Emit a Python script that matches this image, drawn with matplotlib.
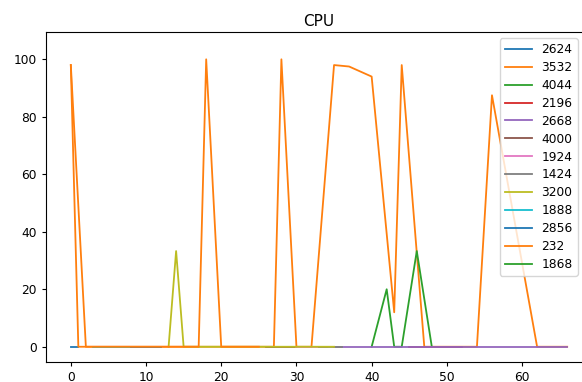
import matplotlib
matplotlib.use("Agg")
import matplotlib.pyplot as plt
import numpy as np

# CPU samples per process id (x = sample index, y = cpu %)
pids = ["2624", "3532", "4044", "2196", "2668", "4000", "1924",
        "1424", "3200", "1888", "2856", "232", "1868"]

x_2624 = [0, 1]
y_2624 = [0, 0]

x_3532 = [0, 1, 5, 10, 15, 20, 25, 27, 28, 30, 32, 35, 37, 40, 43, 44, 47, 50, 54, 56, 62, 66]
y_3532 = [98, 0, 0, 0, 0, 0, 0, 0, 100, 0, 0, 98, 97.5, 94, 12, 98, 0, 0, 0, 87.5, 0, 0]

x_4044 = [40, 42, 43, 44, 46, 48]
y_4044 = [0, 20, 0, 0, 33.3, 0]

x_2196 = [45, 52]
y_2196 = [0, 0]

x_2668 = [35, 40, 45, 50, 55, 60, 66]
y_2668 = [0, 0, 0, 0, 0, 0, 0]

x_4000 = [26, 30]
y_4000 = [0, 0]

x_1924 = [30, 34]
y_1924 = [0, 0]

x_1424 = [33, 36]
y_1424 = [0, 0]

x_3200 = [13, 14, 15, 20, 25, 30, 35]
y_3200 = [0, 33.3, 0, 0, 0, 0, 0]

x_1888 = [3, 8]
y_1888 = [0, 0]

x_2856 = [8, 12]
y_2856 = [0, 0]

x_232 = [0, 2, 5, 10, 13, 17, 18, 20, 22, 25]
y_232 = [98, 0, 0, 0, 0, 0, 100, 0, 0, 0]

x_1868 = [50]
y_1868 = [0]

series_x = [x_2624, x_3532, x_4044, x_2196, x_2668, x_4000, x_1924,
            x_1424, x_3200, x_1888, x_2856, x_232, x_1868]
series_y = [y_2624, y_3532, y_4044, y_2196, y_2668, y_4000, y_1924,
            y_1424, y_3200, y_1888, y_2856, y_232, y_1868]


def main():
    fig = plt.figure(figsize=(5.82, 3.82), dpi=100)
    # axes runs a bit past the right edge, like the cropped original
    ax = fig.add_axes([46 / 582, 1 - 361.7 / 382, (592 - 46) / 582, (361.7 - 32.3) / 382])

    for pid, xs, ys in zip(pids, series_x, series_y):
        ax.plot(xs, ys, label=pid, linewidth=1.3)

    ax.set_xlim(-3.3, 69.3)
    ax.set_ylim(-5.2, 109.4)
    ax.set_xticks(np.arange(0, 70, 10))
    ax.set_yticks(np.arange(0, 101, 20))
    ax.tick_params(labelsize=8.8, length=3, width=0.8)

    ax.set_title("CPU", fontsize=11, pad=4.5)

    ax.legend(loc="upper right", bbox_to_anchor=(577.7 / 582, 1 - 38.3 / 382),
              bbox_transform=fig.transFigure, borderaxespad=0,
              fontsize=8.8, labelspacing=0.4, handlelength=2.2, handletextpad=0.8)

    fig.savefig("out.png", dpi=100)
    plt.close(fig)


if __name__ == "__main__":
    main()
